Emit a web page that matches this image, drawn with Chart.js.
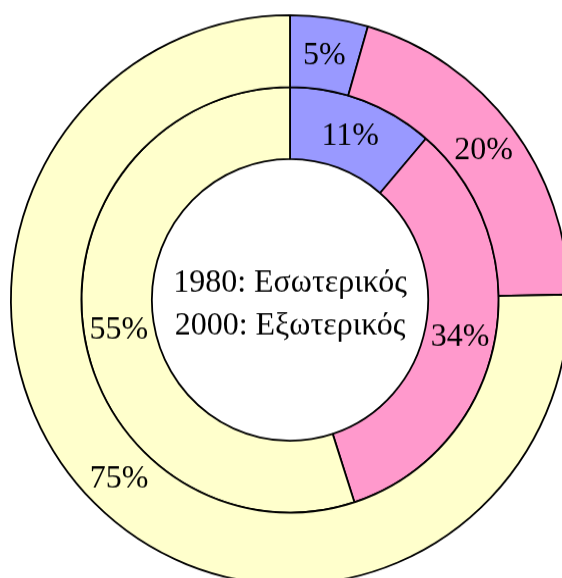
<!DOCTYPE html>
<html>
<head>
<meta charset="utf-8">
<script src="https://cdn.jsdelivr.net/npm/chart.js@4"></script>
<style>
    html, body { margin: 0; padding: 0; overflow: hidden; background: #fff; }
    /* the original pie is a touch taller than wide */
    canvas { display: block; transform: scaleY(1.02); transform-origin: 0 0; }
</style>
</head>
<body>
<canvas id="myChart" width="580" height="588"></canvas>
<script>
const categories = ['A', 'B', 'C'];
const values2000 = [4.5, 20.2, 75.3];   // outer ring
const values1980 = [11.3, 33.7, 55];    // inner ring
const centerLines = ['1980: Εσωτερικός', '2000: Εξωτερικός'];
const sliceColors = ['#9999FF', '#FF99CC', '#FFFFCC'];

const FONT = '32px "Liberation Serif", "Times New Roman", serif';

// percentage labels in the middle of each slice, plus the text in the hole
const labelPlugin = {
    id: 'labels',
    afterDraw(chart) {
        const ctx = chart.ctx;
        ctx.save();
        ctx.font = FONT;
        ctx.fillStyle = '#000';
        ctx.textAlign = 'center';
        ctx.textBaseline = 'middle';
        chart.data.datasets.forEach((ds, i) => {
            chart.getDatasetMeta(i).data.forEach((arc, j) => {
                const pos = arc.tooltipPosition();
                ctx.fillText(Math.round(ds.data[j]) + '%', pos.x, pos.y + 2);
            });
        });
        const arc0 = chart.getDatasetMeta(0).data[0];
        ctx.fillText(centerLines[0], arc0.x, arc0.y - 16);
        ctx.fillText(centerLines[1], arc0.x, arc0.y + 26);
        ctx.restore();
    }
};

document.addEventListener('DOMContentLoaded', () => {
    let ctx = document.getElementById('myChart').getContext('2d');
    new Chart(ctx, {
        type: 'doughnut',
        data: {
            labels: categories,
            datasets: [
                {
                    label: '2000',
                    data: values2000,
                    backgroundColor: sliceColors,
                    borderColor: '#000',
                    borderWidth: 1.8
                },
                {
                    label: '1980',
                    data: values1980,
                    backgroundColor: sliceColors,
                    borderColor: '#000',
                    borderWidth: 1.8
                }
            ]
        },
        options: {
            responsive: false,
            animation: false,
            cutout: '49.5%',
            layout: { padding: { left: 10, right: 10, top: 14, bottom: 14 } },
            plugins: {
                legend: { display: false },
                tooltip: { enabled: false }
            }
        },
        plugins: [labelPlugin]
    });
});
</script>
</body>
</html>
